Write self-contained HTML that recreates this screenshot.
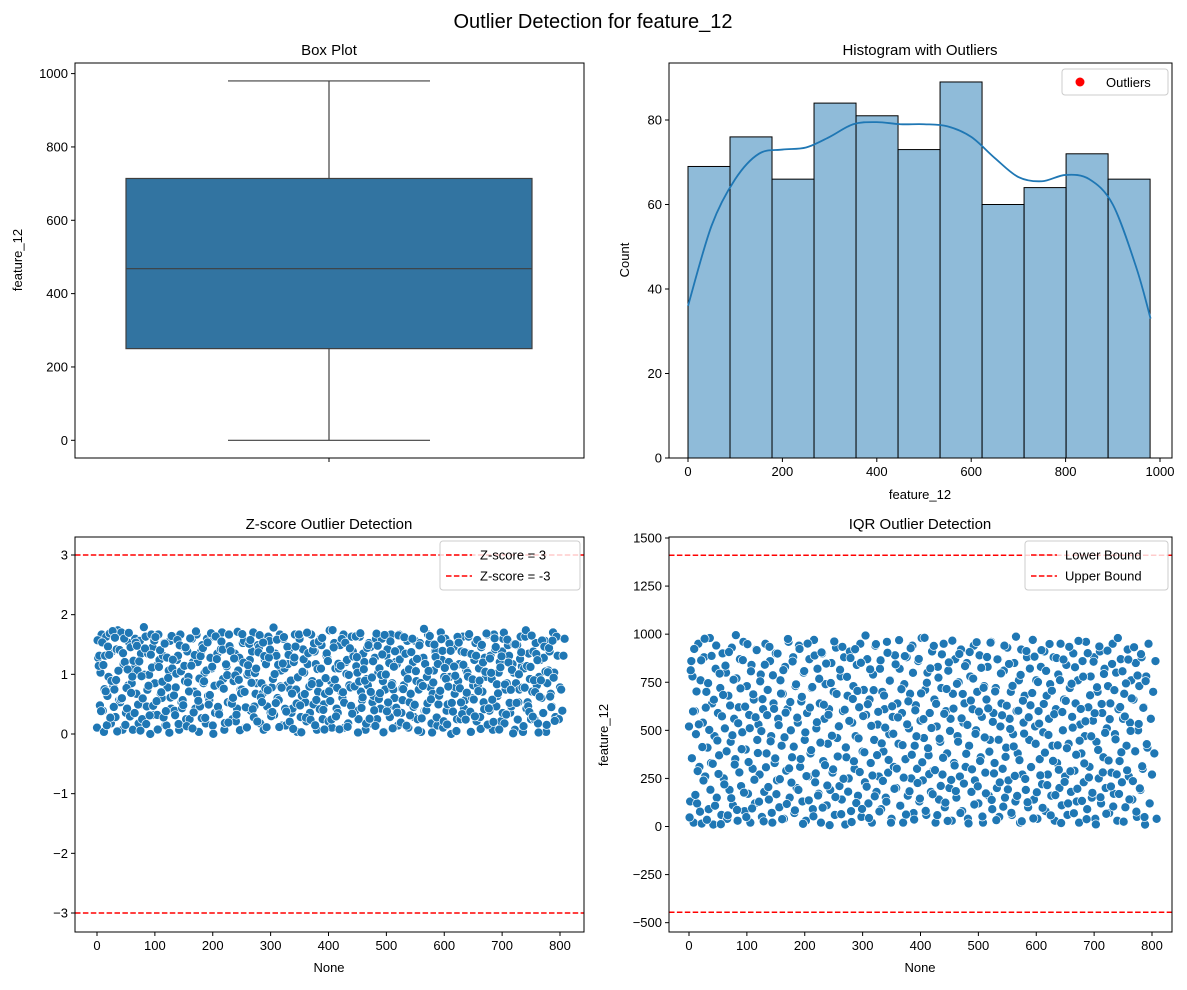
<!DOCTYPE html>
<html><head><meta charset="utf-8"><style>
body{margin:0;background:#fff;font-family:"Liberation Sans","DejaVu Sans",sans-serif}
svg text{font-family:"Liberation Sans","DejaVu Sans",sans-serif}
</style></head><body>
<svg id="c" width="1187" height="985" xmlns="http://www.w3.org/2000/svg">
<text x="593" y="28" font-size="20" text-anchor="middle">Outlier Detection for feature_12</text>
</svg>
<script>
const boxStats=[0,250,468,714,980];
const histCounts=[69,76,66,84,81,73,89,60,64,72,66];
const histStart=0, histWidth=89;
const kdeX=[0,50,100,150,200,250,300,350,400,450,500,550,600,650,700,750,800,850,900,950,980];
const kdeY=[36,55,66,72,73,73.5,76,79,79.5,79,79,78.5,76,71,66.5,65.5,67,66,60,45,33];
const zTicks=[-3,-2,-1,0,1,2,3];
const iqrTicks=[-500,-250,0,250,500,750,1000,1250,1500];
const idxTicks=[0,100,200,300,400,500,600,700,800];
const boxTicks=[0,200,400,600,800,1000];
const histXTicks=[0,200,400,600,800,1000];
const histYTicks=[0,20,40,60,80];
const zBounds=[3,-3];
const iqrBounds=[-446,1410];
const featMean=490, featStd=282;
const featVals=[520,130,860,780,20,600,480,120,950,310,760,15,540,880,260,700,410,90,980,330,640,10,470,820,150,590,370,720,60,900,250,510,800,40,680,190,440,930,110,560,350,770,30,620,870,210,490,960,80,400,730,170,580,20,840,300,660,120,920,450,530,270,790,50,610,180,950,380,710,140,860,470,20,640,330,900,240,560,100,760,420,690,40,830,290,610,960,150,500,360,880,70,730,200,540,940,310,650,130,800,450,30,590,260,870,380,720,90,970,230,510,820,170,640,20,900,340,560,740,110,430,610,190,850,280,700,60,930,460,520,210,780,140,600,880,10,360,680,250,910,80,540,730,300,470,840,160,620,950,50,390,710,230,580,870,120,660,330,20,790,450,940,180,530,260,820,90,700,390,610,150,960,280,480,760,40,570,310,890,200,640,430,820,110,590,20,740,350,880,160,510,690,250,940,70,420,630,300,860,130,550,980,240,460,710,60,800,370,590,180,910,290,660,20,520,830,140,440,720,270,950,100,600,380,810,200,560,30,690,330,870,150,470,750,260,920,80,540,640,310,850,40,420,780,180,610,940,240,500,700,120,890,360,570,20,730,280,660,830,160,450,960,90,590,330,720,200,870,50,520,640,300,810,150,410,930,240,560,700,60,480,850,130,600,380,760,20,920,270,540,680,190,880,100,450,630,310,970,140,520,760,40,600,350,830,220,490,910,80,680,270,560,740,160,420,880,30,610,330,790,200,950,110,500,660,260,840,60,430,720,180,570,900,290,640,130,760,20,530,380,860,230,470,960,90,620,310,780,150,550,880,40,440,700,250,910,120,590,360,820,200,510,730,70,640,280,950,170,480,800,30,610,340,870,230,560,690,100,420,920,260,540,760,140,660,390,850,50,500,730,190,880,300,620,10,780,410,950,120,560,270,700,380,860,40];
const featValsOdd=[47,812,355,598,923,164,702,288,531,77,864,413,239,976,618,35,745,502,191,887,326,659,108,941,447,273,795,12,573,684,219,836,391,58,907,629,147,474,763,322,995,86,537,281,718,402,865,176,623,49,948,335,511,807,94,687,243,568,917,382,129,755,496,662,27,841,308,579,205,934,443,71,786,612,354,168,899,527,246,691,38,813,464,592,117,975,302,647,228,858,415,84,739,566,190,923,351,674,14,808,489,262,951,136,618,397,725,53,889,276,542,161,768,436,905,98,633,319,847,213,581,7,746,472,297,962,153,689,364,521,815,64,934,248,607,411,778,181,549,876,23,663,339,922,122,705,458,283,851,91,574,386,993,207,636,44,817,523,265,709,157,948,371,596,78,864,432,237,681,514,129,903,346,758,20,625,482,196,843,301,567,969,108,714,423,254,886,62,531,651,183,927,373,799,36,604,469,226,871,145,692,334,558,981,81,747,407,272,822,512,168,939,293,638,59,774,456,211,895,357,586,124,715,29,853,497,242,966,613,317,184,742,441,897,70,562,689,223,834,378,528,16,907,655,297,769,114,482,958,209,597,341,825,52,721,463,172,881,614,389,956,138,544,276,702,33,869,451,229,796,578,103,940,362,628,193,845,507,71,731,416,263,987,159,602,345,788,27,654,483,247,912,126,568,821,309,694,42,883,430,178,751,535,266,917,97,637,384,809,215,476,949,58,706,341,584,163,876,422,295,761,18,595,868,232,653,407,120,934,287,742,514,69,828,373,196,965,446,611,133,779,328,547,38,901,255,682,469,175,857,589,11,724,398,936,152,637,281,793,487,66,914,343,558,208,845,104,709,453,271,980,169,621,386,807,25,572,744,292,868,141,497,666,236,932,391,77,785,533,198,896,313,617,49,756,428];
const NS='http://www.w3.org/2000/svg', svg=document.getElementById('c');
function mk(t,a,p){const e=document.createElementNS(NS,t);for(const k in a)e.setAttribute(k,a[k]);(p||svg).appendChild(e);return e;}
function lin(d0,d1,r0,r1){return v=>r0+(v-d0)*(r1-r0)/(d1-d0);}
function frame(g,x0,y0,x1,y1){const r=mk('rect',{x:x0,y:y0,width:x1-x0,height:y1-y0,fill:'none',stroke:'#000','stroke-width':1},g);}
function yAxis(g,ticks,sy,x0){ticks.forEach(t=>{const y=sy(t);mk('line',{x1:x0-4,x2:x0,y1:y,y2:y,stroke:'#000'},g);const tx=mk('text',{x:x0-7,y:y+4.5,'font-size':13,'text-anchor':'end'},g);tx.textContent=String(t).replace('-','\u2212');});}
function xAxis(g,ticks,sx,y0){ticks.forEach(t=>{const x=sx(t);mk('line',{x1:x,x2:x,y1:y0,y2:y0+4,stroke:'#000'},g);const tx=mk('text',{x:x,y:y0+18,'font-size':13,'text-anchor':'middle'},g);tx.textContent=t;});}
function label(g,txt,x,y,rot,size,name){const t=mk('text',{x:x,y:y,'font-size':size||13,'text-anchor':'middle'},g);if(rot)t.setAttribute('transform',`rotate(-90 ${x} ${y})`);t.textContent=txt;}
function grp(n){const g=mk('g',{});return g;}
function smooth(pts){let d='M'+pts[0][0]+' '+pts[0][1];for(let i=0;i<pts.length-1;i++){const p0=pts[i-1]||pts[i],p1=pts[i],p2=pts[i+1],p3=pts[i+2]||p2;d+=`C${p1[0]+(p2[0]-p0[0])/6} ${p1[1]+(p2[1]-p0[1])/6} ${p2[0]-(p3[0]-p1[0])/6} ${p2[1]-(p3[1]-p1[1])/6} ${p2[0]} ${p2[1]}`;}return d;}
(function(){const g=grp('box-plot-panel');const sy=lin(0,1000,440.3,73.6);const cx=329;
mk('line',{x1:cx,x2:cx,y1:sy(boxStats[0]),y2:sy(boxStats[1]),stroke:'#3f3f3f','stroke-width':1.2},g);
mk('line',{x1:cx,x2:cx,y1:sy(boxStats[3]),y2:sy(boxStats[4]),stroke:'#3f3f3f','stroke-width':1.2},g);
[0,4].forEach(i=>mk('line',{x1:228,x2:430,y1:sy(boxStats[i]),y2:sy(boxStats[i]),stroke:'#3f3f3f','stroke-width':1.2},g));
const b=mk('rect',{x:126,y:sy(boxStats[3]),width:406,height:sy(boxStats[1])-sy(boxStats[3]),fill:'#3274a1',stroke:'#3f3f3f','stroke-width':1.2},g);
mk('line',{x1:126,x2:532,y1:sy(boxStats[2]),y2:sy(boxStats[2]),stroke:'#3f3f3f','stroke-width':1.2},g);
frame(g,75,63,584,458);yAxis(g,boxTicks,sy,75);mk('line',{x1:329,x2:329,y1:458,y2:462,stroke:'#000'},g);
label(g,'feature_12',22,260,true,13,'y-axis-title');label(g,'Box Plot',329,55,false,15,'panel-title');})();
(function(){const g=grp('histogram-panel');const sx=lin(0,1000,688,1160),sy=lin(0,80,458,120);
histCounts.forEach((c,i)=>{const x0=sx(histStart+i*histWidth),x1=sx(histStart+(i+1)*histWidth);const r=mk('rect',{x:x0,y:sy(c),width:x1-x0,height:sy(0)-sy(c),fill:'rgba(31,119,180,0.5)',stroke:'#000','stroke-width':1},g);});
const p=mk('path',{d:smooth(kdeX.map((x,i)=>[sx(x),sy(kdeY[i])])),fill:'none',stroke:'#1f77b4','stroke-width':1.8},g);
frame(g,669,63,1172,458);yAxis(g,histYTicks,sy,669);xAxis(g,histXTicks,sx,458);
label(g,'feature_12',920,499,false,13,'x-axis-title');label(g,'Count',629,260,true,13,'y-axis-title');label(g,'Histogram with Outliers',920,55,false,15,'panel-title');
const lg=mk('g',{},g);
mk('rect',{x:1062,y:69,width:106,height:26,rx:3,fill:'#fff',stroke:'#ccc'},lg);mk('circle',{cx:1080,cy:82,r:4.5,fill:'red'},lg);const t=mk('text',{x:1106,y:87,'font-size':13},lg);t.textContent='Outliers';})();
function scatter(g,sx,sy,vals,off){vals.forEach((v,i)=>{const c=mk('circle',{cx:sx(i*2+off),cy:sy(v),r:4.5,fill:'#1f77b4',stroke:'#fff','stroke-width':0.7},g);});}
function legend2(g,x,w,names){const lg=mk('g',{},g);mk('rect',{x:x,y:541,width:w,height:49,rx:3,fill:'rgba(255,255,255,0.8)',stroke:'#ccc'},lg);names.forEach((n,i)=>{const y=555+i*21;mk('line',{x1:x+6,x2:x+32,y1:y,y2:y,stroke:'red','stroke-width':1.5,'stroke-dasharray':'5.5,2.4'},lg);const t=mk('text',{x:x+40,y:y+4.5,'font-size':13},lg);t.textContent=n;});}
(function(){const g=grp('zscore-panel');const sx=lin(0,800,97,560),sy=lin(0,3,734,555);const z=v=>Math.abs(v-featMean)/featStd;
scatter(g,sx,sy,featVals.map(z),0);scatter(g,sx,sy,featValsOdd.map(z),1);
zBounds.forEach(b=>mk('line',{x1:75,x2:584,y1:sy(b),y2:sy(b),stroke:'red','stroke-width':1.5,'stroke-dasharray':'5.5,2.4'},g));
frame(g,75,537,584,932);yAxis(g,zTicks,sy,75);xAxis(g,idxTicks,sx,932);
label(g,'None',329,972,false,13,'x-axis-title');label(g,'Z-score Outlier Detection',329,529,false,15,'panel-title');
legend2(g,440,140,['Z-score = 3','Z-score = -3']);})();
(function(){const g=grp('iqr-panel');const sx=lin(0,800,689,1152),sy=lin(0,1500,826.5,538);
scatter(g,sx,sy,featVals,0);scatter(g,sx,sy,featValsOdd,1);
iqrBounds.forEach(b=>mk('line',{x1:669,x2:1172,y1:sy(b),y2:sy(b),stroke:'red','stroke-width':1.5,'stroke-dasharray':'5.5,2.4'},g));
frame(g,669,537,1172,932);yAxis(g,iqrTicks,sy,669);xAxis(g,idxTicks,sx,932);
label(g,'None',920,972,false,13,'x-axis-title');label(g,'feature_12',608,735,true,13,'y-axis-title');label(g,'IQR Outlier Detection',920,529,false,15,'panel-title');
legend2(g,1025,143,['Lower Bound','Upper Bound']);})();
</script>
</body></html>
